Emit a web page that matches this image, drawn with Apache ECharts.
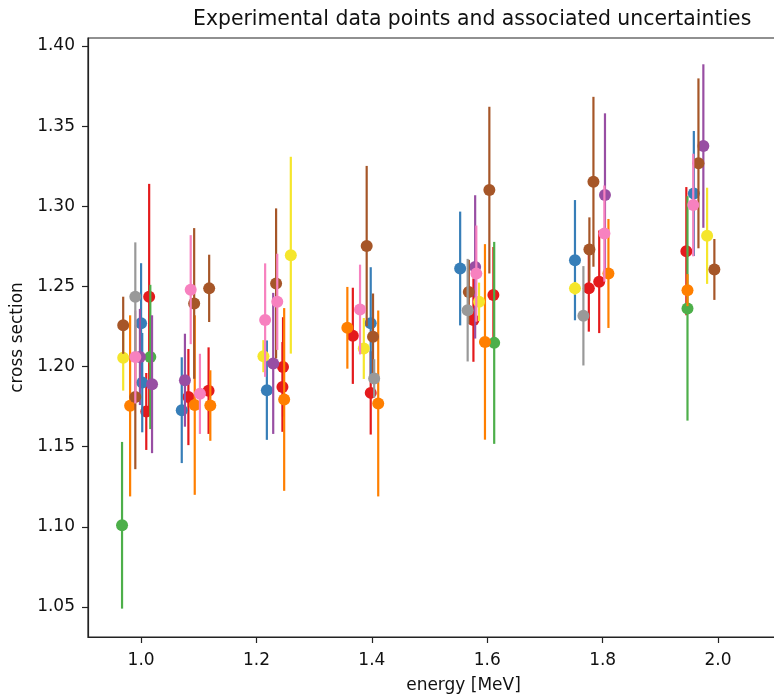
<!DOCTYPE html>
<html>
<head>
<meta charset="utf-8">
<script src="https://cdn.jsdelivr.net/npm/echarts@6/dist/echarts.min.js"></script>
<style>html,body{margin:0;padding:0;background:#fff;overflow:hidden;width:774px;height:694px}#c{width:840px;height:694px}</style>
</head>
<body>
<div id="c"></div>
<script>
// Each point: [energy, cross section, uncertainty]
const redPts = [[1.014,1.2435,0.0705],[1.009,1.172,0.024],[1.082,1.181,0.03],[1.117,1.185,0.027],[1.246,1.1998,0.031],[1.245,1.1873,0.028],[1.367,1.2192,0.03],[1.398,1.1836,0.026],[1.576,1.229,0.026],[1.6106,1.2446,0.03],[1.776,1.2488,0.027],[1.794,1.2529,0.032],[1.945,1.272,0.04]];
const bluePts = [[1.0,1.227,0.0375],[1.002,1.19,0.031],[1.0705,1.1728,0.033],[1.218,1.1853,0.031],[1.398,1.227,0.035],[1.553,1.2612,0.0355],[1.752,1.2664,0.0375],[1.958,1.308,0.039]];
const greenPts = [[0.967,1.101,0.052],[1.016,1.206,0.045],[1.612,1.2148,0.063],[1.947,1.2363,0.07]];
const purplePts = [[0.998,1.206,0.03],[1.019,1.189,0.043],[1.076,1.1915,0.029],[1.229,1.202,0.044],[1.579,1.2622,0.0447],[1.804,1.307,0.051],[1.9745,1.3376,0.051]];
const orangePts = [[0.981,1.1755,0.0565],[1.093,1.176,0.056],[1.12,1.1757,0.022],[1.248,1.1795,0.057],[1.3575,1.2242,0.0255],[1.411,1.177,0.058],[1.596,1.2154,0.061],[1.81,1.2581,0.034],[1.947,1.2477,0.01]];
const yellowPts = [[0.969,1.2055,0.0205],[1.2595,1.2695,0.0614],[1.212,1.2065,0.01],[1.386,1.2113,0.019],[1.5858,1.2404,0.012],[1.752,1.2488,0.004],[1.981,1.2816,0.03]];
const brownPts = [[0.969,1.2258,0.0178],[0.99,1.181,0.045],[1.092,1.2394,0.047],[1.118,1.2488,0.021],[1.234,1.2519,0.0468],[1.391,1.2752,0.05],[1.402,1.2186,0.027],[1.6036,1.3101,0.052],[1.568,1.2466,0.02],[1.784,1.3153,0.053],[1.777,1.2731,0.02],[1.966,1.3268,0.053],[1.9936,1.2606,0.019]];
const pinkPts = [[0.99,1.206,0.029],[1.086,1.248,0.034],[1.102,1.183,0.025],[1.215,1.229,0.0354],[1.236,1.2404,0.03],[1.3795,1.2356,0.028],[1.581,1.258,0.03],[1.803,1.283,0.03],[1.957,1.3008,0.032]];
const greyPts = [[0.99,1.2435,0.034],[1.404,1.1926,0.012],[1.566,1.2352,0.032],[1.7666,1.2317,0.031]];

const xTicks = [1.0, 1.2, 1.4, 1.6, 1.8, 2.0];
const yTicks = [1.05, 1.10, 1.15, 1.20, 1.25, 1.30, 1.35, 1.40];

const groups = [
  {name:'red', color:'#e41a1c', data:redPts},
  {name:'blue', color:'#377eb8', data:bluePts},
  {name:'green', color:'#4daf4a', data:greenPts},
  {name:'purple', color:'#984ea3', data:purplePts},
  {name:'orange', color:'#ff7f00', data:orangePts},
  {name:'yellow', color:'#f5e62c', data:yellowPts},
  {name:'brown', color:'#a65628', data:brownPts},
  {name:'pink', color:'#f781bf', data:pinkPts},
  {name:'grey', color:'#999999', data:greyPts}
];

const FONT = 'DejaVu Sans';
const chart = echarts.init(document.getElementById('c'), null, {renderer:'canvas'});

function makeRender(color){
  return function(params, api){
    const x = api.value(0), y = api.value(1), e = api.value(2);
    const top = api.coord([x, y + e]);
    const bot = api.coord([x, y - e]);
    const c = api.coord([x, y]);
    return {type:'group', children:[
      {type:'line', shape:{x1:top[0], y1:top[1], x2:bot[0], y2:bot[1]}, style:{stroke:color, lineWidth:2.2}},
      {type:'circle', shape:{cx:c[0], cy:c[1], r:6}, style:{fill:color}}
    ]};
  };
}

const option = {
  animation:false,
  backgroundColor:'#fff',
  title:{
    text:'Experimental data points and associated uncertainties',
    left:188, top:5,
    textStyle:{fontFamily:FONT, fontSize:20.4, fontWeight:'normal', color:'#111'}
  },
  grid:{left:88, top:38, bottom:57, right:1, outerBoundsMode:'none', containLabel:false, show:true, borderColor:'#222', borderWidth:1.2, backgroundColor:'transparent'},
  xAxis:{
    type:'value', min:0.908, max:2.2096,
    name:'energy [MeV]', nameLocation:'middle', nameGap:40,
    nameTextStyle:{fontFamily:FONT, fontSize:17, color:'#111'},
    axisLine:{show:true, onZero:false, lineStyle:{color:'#222', width:1.2}},
    axisTick:{show:true, length:6, customValues:xTicks, lineStyle:{color:'#222', width:1.2}},
    axisLabel:{show:true, customValues:xTicks, margin:15, fontFamily:FONT, fontSize:17, color:'#111', formatter:v=>Number(v).toFixed(1)},
    splitLine:{show:false}
  },
  yAxis:{
    type:'value', min:1.0313, max:1.405,
    name:'cross section', nameLocation:'middle', nameGap:57, nameRotate:90,
    nameTextStyle:{fontFamily:FONT, fontSize:17, color:'#111'},
    axisLine:{show:true, onZero:false, lineStyle:{color:'#222', width:1.2}},
    axisTick:{show:true, length:6, customValues:yTicks, lineStyle:{color:'#222', width:1.2}},
    axisLabel:{show:true, customValues:yTicks, margin:13, fontFamily:FONT, fontSize:17, color:'#111', formatter:v=>Number(v).toFixed(2)},
    splitLine:{show:false}
  },
  series: groups.map(g => ({
    type:'custom', name:g.name, data:g.data,
    renderItem: makeRender(g.color),
    encode:{x:0, y:1}
  }))
};
chart.setOption(option);
</script>
</body>
</html>
